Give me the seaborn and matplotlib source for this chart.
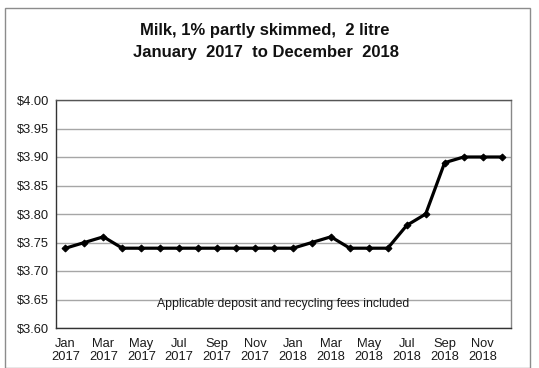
import matplotlib
matplotlib.use("Agg")
import matplotlib.pyplot as plt
import seaborn as sns
import pandas as pd
import numpy as np
from matplotlib.patches import Rectangle

months = ["Jan", "Feb", "Mar", "Apr", "May", "Jun", "Jul", "Aug", "Sep", "Oct", "Nov", "Dec"]
years = ["2017", "2018"]
prices = [3.74, 3.75, 3.76, 3.74, 3.74, 3.74, 3.74, 3.74, 3.74, 3.74, 3.74, 3.74,
          3.74, 3.75, 3.76, 3.74, 3.74, 3.74, 3.78, 3.80, 3.89, 3.90, 3.90, 3.90]
y_ticks = [3.60, 3.65, 3.70, 3.75, 3.80, 3.85, 3.90, 3.95, 4.00]

periods = [f"{m}\n{y}" for y in years for m in months]
df = pd.DataFrame({"period": periods, "idx": np.arange(len(periods)), "price": prices})

sns.set_theme(style="white")
plt.rcParams["font.family"] = ["Liberation Sans", "DejaVu Sans"]

fig = plt.figure(figsize=(5.39, 3.68), dpi=100)
ax = fig.add_axes([56 / 539, 1 - 328 / 368, 455 / 539, 228 / 368])

sns.lineplot(data=df, x="idx", y="price", ax=ax, color="black", linewidth=2.3,
             marker="D", markersize=3.5, markeredgecolor="black", zorder=3)

ax.set_xlim(-0.5, len(periods) - 0.5)
ax.set_ylim(3.60, 4.00)
ax.set_yticks(y_ticks)
ax.set_yticklabels([f"${v:.2f}" for v in y_ticks], fontsize=9.3, color="#1a1a1a")
ax.set_xticks(np.arange(0, len(periods), 2))
ax.set_xticklabels([periods[i] for i in range(0, len(periods), 2)], fontsize=9.3,
                   linespacing=1.15, color="#1a1a1a")
ax.set_xticks(np.arange(-0.5, len(periods), 1), minor=True)
ax.tick_params(axis="x", which="major", length=0, pad=7)
ax.tick_params(axis="x", which="minor", length=4, width=0.8, color="#333333", direction="out")
ax.tick_params(axis="y", length=0, pad=5)
ax.set_xlabel("")
ax.set_ylabel("")

ax.yaxis.grid(True, color="#a6a6a6", linewidth=1.0)
ax.xaxis.grid(False)
ax.set_axisbelow(True)

ax.spines["left"].set_color("#333333")
ax.spines["bottom"].set_color("#333333")
ax.spines["top"].set_color("#555555")
ax.spines["right"].set_color("#888888")
for s in ax.spines.values():
    s.set_linewidth(1.0)

ax.text(11.5, 3.642, "Applicable deposit and recycling fees included",
        ha="center", va="center", fontsize=8.8, color="#1a1a1a")

fig.text(265 / 539, 1 - 30 / 368, "Milk, 1% partly skimmed,  2 litre",
         ha="center", va="center", fontsize=12, fontweight="bold", color="#111111")
fig.text(266 / 539, 1 - 52 / 368, "January  2017  to December  2018",
         ha="center", va="center", fontsize=12, fontweight="bold", color="#111111")

fig.patches.append(Rectangle((5 / 539, 0), 525 / 539, 1 - 8 / 368, transform=fig.transFigure,
                             fill=False, edgecolor="#8c8c8c", linewidth=1.0))

fig.savefig("out.png", dpi=100)
